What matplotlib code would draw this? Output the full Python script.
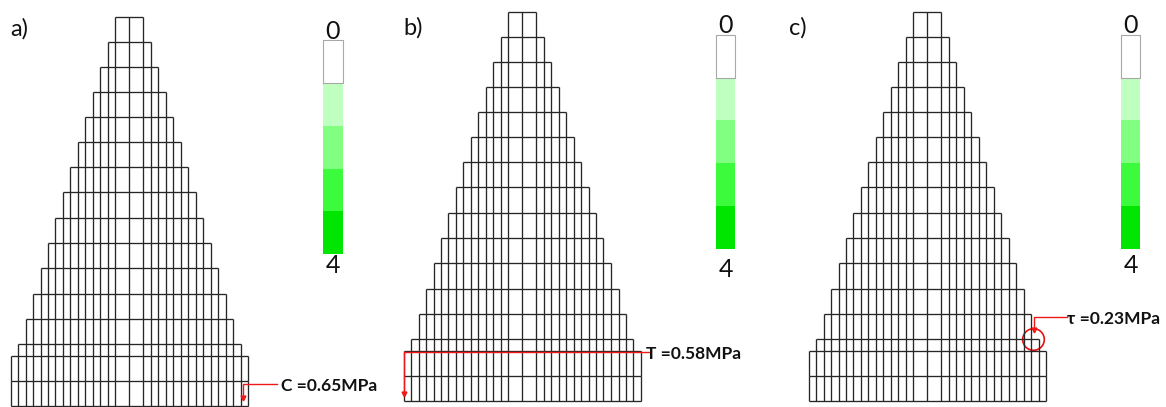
import matplotlib
matplotlib.use("Agg")
import numpy as np
import matplotlib.pyplot as plt
from matplotlib.colors import ListedColormap
from matplotlib.patches import Circle

plt.rcParams['font.family'] = ['Lato', 'DejaVu Sans']

W, H = 1166, 407

# dam mesh (distance from centre line, depth from crest)
half_edges = [14, 21.5, 29, 36.5, 44, 51.3, 59, 66.4, 74, 81.2, 88.6, 96.4, 103.7, 111.2, 118.8]
levels = [0, 25.3, 50.3, 75.3, 100.3, 125.3, 150.3, 175.3, 201, 226.3, 251.3, 276.8, 301.8, 327,
          339.3, 364.3, 389.3]
course_edges = [0, 1, 2, 3, 4, 5, 6, 7, 8, 9, 10, 11, 12, 13, 14, 14]

# colour scale
scale_values = [0, 1, 2, 3, 4]
scale_colors = ['#ffffff', '#bfffbf', '#80ff80', '#3cfb3c', '#00e600']
scale_labels = ['0', '4']

# panels
panel_names = ['a)', 'b)', 'c)']
panel_x = [10, 403, 789]
panel_base = [36, 35, 35]
crest_x = [129.3, 522.3, 927.3]
crest_y = [16.7, 11.7, 11.7]
bar_x = [323.3, 716, 1121]
bar_y = [40.3, 35, 35]
zero_base = [39.3, 33.3, 33.3]
four_base = [272.7, 277.3, 273.3]

# peak stress callouts (leader path is relative to crest)
stress_text = ['C =0.65MPa', 'T =0.58MPa', 'τ =0.23MPa']
text_x = [151.5, 124, 139.5]
text_base = [374, 347.6, 312.3]
leader_x = [[147.7, 114, 114], [126.7, -118, -118], [140, 106.2, 106.2]]
leader_y = [[367.3, 367.3, 381], [340.6, 340.6, 382], [305, 305, 318]]
circle_at = [None, None, (106.2, 327.8)]

LINE = '#262626'
RED = '#f01818'


def to_ax(fig, cx, cy):
    # one axes per panel, one data unit is one pixel
    ax = fig.add_axes([(cx - 140) / W, 1 - (cy + 400) / H, 380 / W, 420 / H])
    ax.set_xlim(-140, 240)
    ax.set_ylim(400, -20)
    ax.axis('off')
    return ax


def draw_mesh(ax):
    for i, k in enumerate(course_edges):
        top, bot = levels[i], levels[i + 1]
        edges = np.array(half_edges[:k + 1])
        xs = np.concatenate([[0], edges, -edges])
        ax.vlines(xs, top, bot, color=LINE, lw=0.95)
        ax.hlines(top, -edges[-1], edges[-1], color=LINE, lw=0.95)
    ax.hlines(levels[-1], -half_edges[-1], half_edges[-1], color=LINE, lw=0.95)


def draw_scale(fig, x0, y0):
    ax = fig.add_axes([x0 / W, 1 - (y0 + 213.7) / H, 19.2 / W, 213.7 / H])
    vals = np.array(scale_values)[:, None]
    ax.pcolormesh([0, 1], np.arange(len(vals) + 1), vals,
                  cmap=ListedColormap(scale_colors), vmin=-0.5, vmax=4.5)
    ax.set_xlim(0, 1)
    ax.set_ylim(len(vals), 0)
    ax.axis('off')
    ax.plot([0, 0, 1, 1, 0], [1, 0, 0, 1, 1], color='#a8a8a8', lw=0.8, clip_on=False)


fig = plt.figure(figsize=(W / 100, H / 100), dpi=100, facecolor='white')

for i in range(3):
    ax = to_ax(fig, crest_x[i], crest_y[i])
    draw_mesh(ax)

    ax.plot(leader_x[i], leader_y[i], color=RED, lw=1, clip_on=False)
    ax.plot(leader_x[i][-1], leader_y[i][-1], marker='v', ms=3.5, color=RED, mec=RED, clip_on=False)
    if circle_at[i] is not None:
        ax.add_patch(Circle(circle_at[i], 10.8, fill=False, ec='#e81010', lw=1.2, clip_on=False))
    ax.text(text_x[i], text_base[i], stress_text[i], fontsize=12.5, fontweight='bold',
            color='#111111', va='baseline', ha='left', clip_on=False)

    draw_scale(fig, bar_x[i], bar_y[i])
    mid = bar_x[i] + 9.6
    fig.text(panel_x[i] / W, 1 - panel_base[i] / H, panel_names[i], fontsize=17, color='#111111', va='baseline')
    fig.text(mid / W, 1 - zero_base[i] / H, scale_labels[0], fontsize=18, color='#111111', ha='center', va='baseline')
    fig.text(mid / W, 1 - four_base[i] / H, scale_labels[1], fontsize=18, color='#111111', ha='center', va='baseline')

fig.savefig('out.png', dpi=100)
